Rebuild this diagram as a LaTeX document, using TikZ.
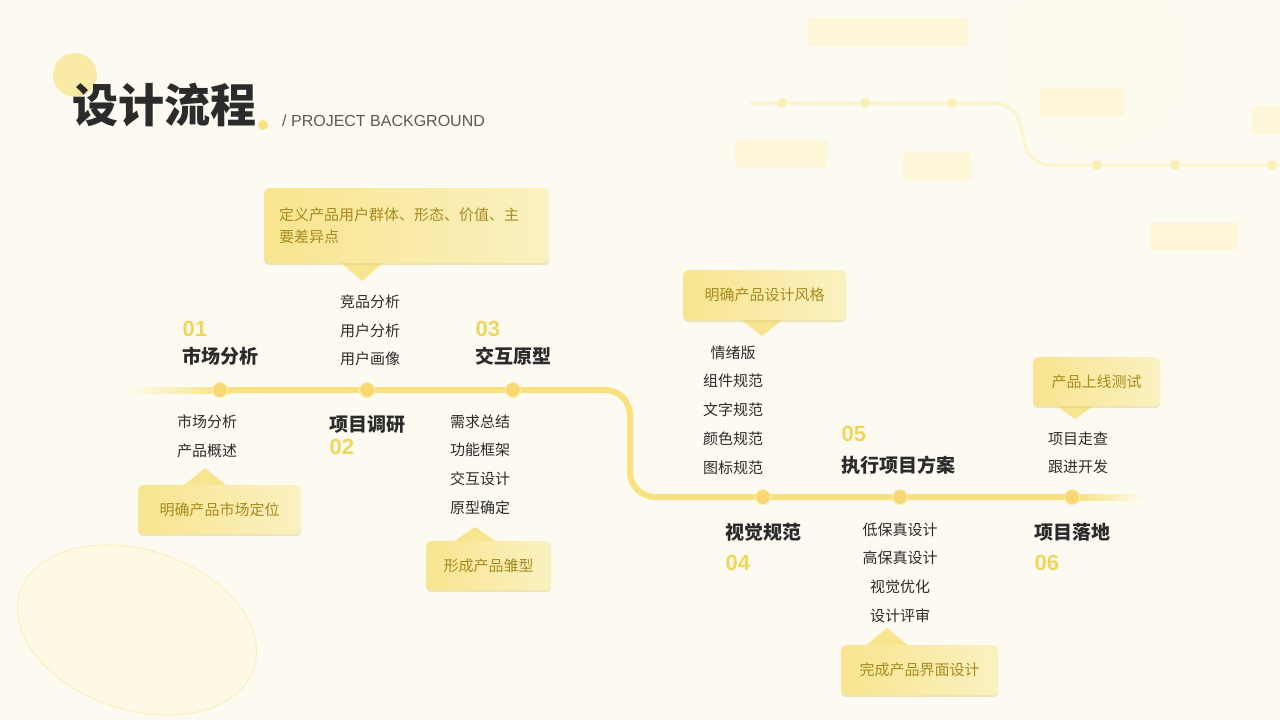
\documentclass[tikz,border=0pt]{standalone}
\usepackage{fontspec}
\setmainfont{Noto Sans CJK SC}
\newfontfamily\latinfont{Liberation Sans}
\usetikzlibrary{positioning,calc,shadows}
\definecolor{bgc}{HTML}{FDFBF1}
\definecolor{track}{HTML}{F7E27F}
\definecolor{callfill}{HTML}{F8E58F}
\definecolor{calltext}{HTML}{A88A1E}
\definecolor{numc}{HTML}{EFD65A}
\definecolor{inkc}{HTML}{2B2B2B}
\tikzset{
  callout/.style={rectangle, rounded corners=5pt, left color=callfill, right color=callfill!55!white,
    text=calltext, font=\fontsize{15}{22}\selectfont, inner sep=0pt, anchor=north west,
    drop shadow={shadow xshift=0pt, shadow yshift=-2pt, fill=callfill!90!black, opacity=0.5, rounded corners=5pt}},
  pointer/.style={fill=callfill},
  stage/.style={font=\bfseries\fontsize{19}{22}\selectfont, text=inkc, anchor=west},
  stagenum/.style={font=\latinfont\bfseries\fontsize{22}{22}\selectfont, text=numc, anchor=west},
  item/.style={font=\fontsize{15}{28.8}\selectfont, text=inkc, align=center, anchor=north},
  dot/.style={circle, fill=track!90!orange, minimum size=15pt, inner sep=0pt, draw=track!60!white, line width=1pt}
}
\begin{document}
\begin{tikzpicture}[x=1pt,y=-1pt]
\useasboundingbox (0,0) rectangle (1280,720);
\fill[bgc] (0,0) rectangle (1280,720);
% soft background decoration
\fill[track!15, opacity=0.5] (1095,60) circle (90);
\fill[track!20, rotate around={-18:(137,630)}, draw=track!60, line width=0.8pt] (137,630) ellipse (123 and 80);
\foreach \x/\y/\w in {808/18/160,735/140/92,903/152/68,1150/222/88,1252/106/40,1040/88/84}
  \fill[track!30, rounded corners=3pt] (\x,\y) rectangle ++(\w,28);
\draw[track!40, line width=3pt, rounded corners=20pt] (750,103) -- (1015,103) -- (1030,165) -- (1280,165);
\foreach \x in {782,865,952} \fill[track!55] (\x,103) circle (5);
\foreach \x in {1097,1175,1272} \fill[track!55] (\x,165) circle (5);
% header
\fill[track!70] (75,75) circle (22);
\node[font=\bfseries\fontsize{46}{46}\selectfont, text=inkc, anchor=west, inner sep=0pt] (title) at (72,105) {设计流程};
\fill[track] (263,125) circle (5);
\node[font=\latinfont\fontsize{16}{16}\selectfont, text=black!65, anchor=west, inner sep=0pt] (sub) at (282,121) {/ PROJECT BACKGROUND};
% track
\shade[left color=bgc, right color=track] (125,387) rectangle (230,393);
\draw[track, line width=6pt, rounded corners=25pt] (229,390) -- (630,390) -- (630,497) -- (1080,497);
\shade[left color=track, right color=bgc] (1079,494) rectangle (1145,500);
\foreach \n/\x/\y in {a/220/390,b/367/390,c/513/390,d/763/497,e/900/497,f/1072/497}
  \node[dot] (dot\n) at (\x,\y) {};
% stages
\node[stagenum] (n1) at (179,329) {01};
\node[stage] (s1) at (179,356) {市场分析};
\node[stage] (s2) at (326,424) {项目调研};
\node[stagenum] (n2) at (326,447) {02};
\node[stagenum] (n3) at (472,329) {03};
\node[stage] (s3) at (472,356) {交互原型};
\node[stage] (s4) at (722,532) {视觉规范};
\node[stagenum] (n4) at (722,563) {04};
\node[stagenum] (n5) at (838,434) {05};
\node[stage] (s5) at (838,465) {执行项目方案};
\node[stage] (s6) at (1031,532) {项目落地};
\node[stagenum] (n6) at (1031,563) {06};
% item lists
\node[item] (l2) at (370,291) {竞品分析\\用户分析\\用户画像};
\node[item] (l1) at (207,411) {市场分析\\产品概述};
\node[item] (l3) at (480,411) {需求总结\\功能框架\\交互设计\\原型确定};
\node[item] (l4) at (733,342) {情绪版\\组件规范\\文字规范\\颜色规范\\图标规范};
\node[item] (l5) at (900,519) {低保真设计\\高保真设计\\视觉优化\\设计评审};
\node[item] (l6) at (1078,428) {项目走查\\跟进开发};
% callouts
\fill[pointer] (340,262) -- (362,281) -- (384,262) -- cycle;
\node[callout, minimum width=285pt, minimum height=75pt, align=left, text width=265pt] (c2) at (264,188)
  {\hspace*{5pt}定义产品用户群体、形态、价值、主\\\hspace*{5pt}要差异点};
\fill[pointer] (740,319) -- (762,336) -- (784,319) -- cycle;
\node[callout, minimum width=163pt, minimum height=50pt] (c4) at (683,270) {明确产品设计风格};
\fill[pointer] (1055,405) -- (1075,419) -- (1095,405) -- cycle;
\node[callout, minimum width=127pt, minimum height=49pt] (c6) at (1033,357) {产品上线测试};
\fill[pointer] (183,486) -- (205,468) -- (227,486) -- cycle;
\node[callout, minimum width=163pt, minimum height=49pt] (c1) at (138,485) {明确产品市场定位};
\fill[pointer] (453,542) -- (475,527) -- (497,542) -- cycle;
\node[callout, minimum width=125pt, minimum height=49pt] (c3) at (426,541) {形成产品雏型};
\fill[pointer] (865,646) -- (887,628) -- (909,646) -- cycle;
\node[callout, minimum width=157pt, minimum height=50pt] (c5) at (841,645) {完成产品界面设计};
\end{tikzpicture}
\end{document}
